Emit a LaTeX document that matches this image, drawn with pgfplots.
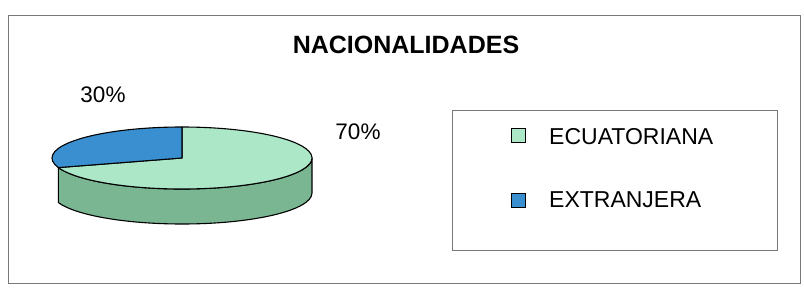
\documentclass[border=0pt]{standalone}
\usepackage{pgfplots}
\pgfplotsset{compat=1.18}
\usepackage{pgfplotstable}
\usepackage{fontspec}
\setmainfont{Liberation Sans}
\definecolor{topgreen}{RGB}{172,232,200}
\definecolor{sidegreen}{RGB}{122,182,146}
\definecolor{pieblue}{RGB}{58,143,208}
\definecolor{framegray}{RGB}{120,120,120}
\pgfplotstableread{
label value
ECUATORIANA 70
EXTRANJERA 30
}\piedata
\begin{document}
\begin{tikzpicture}
\pgfplotstablegetelem{0}{value}\of\piedata \pgfmathsetmacro\va{\pgfplotsretval}
\pgfplotstablegetelem{1}{value}\of\piedata \pgfmathsetmacro\vb{\pgfplotsretval}
\pgfmathsetmacro\tot{\va+\vb}
\pgfmathsetmacro\angB{90+360*\vb/\tot}
\pgfmathsetmacro\angA{450}
\pgfmathsetmacro\pa{round(100*\va/\tot)}
\pgfmathsetmacro\pb{round(100*\vb/\tot)}
\pgfmathtruncatemacro\pai{\pa}
\pgfmathtruncatemacro\pbi{\pb}
\def\cx{182}\def\cy{132}\def\rx{130}\def\ry{31}\def\dep{35}
\begin{axis}[scale only axis, width=804pt, height=290pt,
  xmin=0, xmax=804, ymin=0, ymax=290, hide axis, clip=false]
% page extent
\path (axis cs:0,0) rectangle (axis cs:804,290);
% outer frame
\draw[framegray, line width=0.8pt] (axis cs:8,275) rectangle (axis cs:800,7);
% title
\node[font=\fontsize{25}{29}\selectfont\bfseries, inner sep=0pt] at (axis cs:406,245) {NACIONALIDADES};
% side wall of the green slice
\filldraw[fill=sidegreen, draw=black, line width=1.1pt, line join=round]
  (axis cs:{\cx+\rx*cos(\angB)},{\cy+\ry*sin(\angB)})
  arc[start angle=\angB, end angle=360, x radius=\rx pt, y radius=\ry pt]
  -- ++(0pt,-\dep pt)
  arc[start angle=360, end angle=\angB, x radius=\rx pt, y radius=\ry pt]
  -- cycle;
% top of green slice
\filldraw[fill=topgreen, draw=black, line width=1.1pt, line join=round]
  (axis cs:\cx,\cy) -- (axis cs:{\cx+\rx*cos(\angB)},{\cy+\ry*sin(\angB)})
  arc[start angle=\angB, end angle=\angA, x radius=\rx pt, y radius=\ry pt]
  -- cycle;
% top of blue slice
\filldraw[fill=pieblue, draw=black, line width=1.1pt, line join=round]
  (axis cs:\cx,\cy) -- (axis cs:\cx,{\cy+\ry})
  arc[start angle=90, end angle=\angB, x radius=\rx pt, y radius=\ry pt]
  -- cycle;
% data labels
\node[font=\fontsize{22.5}{26}\selectfont, inner sep=0pt] at (axis cs:103,195) {\pbi\%};
\node[font=\fontsize{22.5}{26}\selectfont, inner sep=0pt] at (axis cs:358,158) {\pai\%};
% legend
\draw[framegray, line width=0.8pt] (axis cs:452,180) rectangle (axis cs:777,40);
\filldraw[fill=topgreen, draw=black, line width=0.9pt] (axis cs:511,148) rectangle (axis cs:525,162);
\filldraw[fill=pieblue, draw=black, line width=0.9pt] (axis cs:511,83) rectangle (axis cs:525,97);
\node[font=\fontsize{23}{27}\selectfont, inner sep=0pt, anchor=west] at (axis cs:549,153) {ECUATORIANA};
\node[font=\fontsize{23}{27}\selectfont, inner sep=0pt, anchor=west] at (axis cs:549,90) {EXTRANJERA};
\end{axis}
\end{tikzpicture}
\end{document}
